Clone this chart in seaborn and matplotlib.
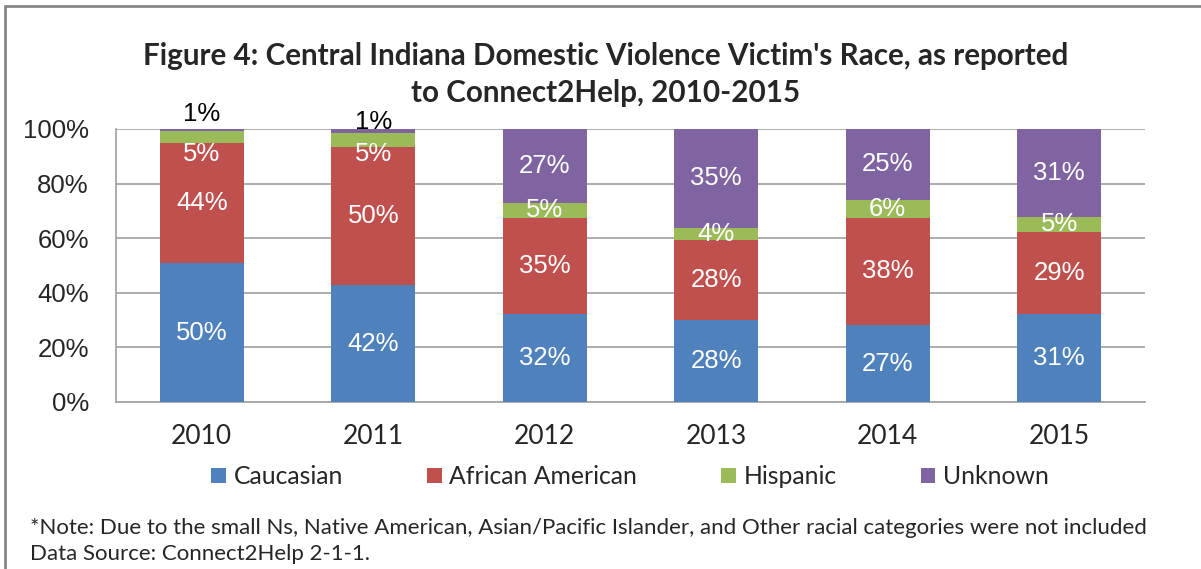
import numpy as np
import pandas as pd
import matplotlib
matplotlib.use('Agg')
from matplotlib import pyplot as plt
from matplotlib.lines import Line2D
from matplotlib.patches import Patch
from matplotlib.ticker import FixedLocator
import seaborn as sns

years = ['2010', '2011', '2012', '2013', '2014', '2015']
races = ['Caucasian', 'African American', 'Hispanic', 'Unknown']
# segment shares (%)
caucasian = [50.8, 42.7, 32.4, 29.9, 28.2, 32.4]
african_american = [43.9, 50.8, 35.1, 29.5, 39.3, 30.0]
hispanic = [4.7, 5.1, 5.4, 4.4, 6.5, 5.3]
unknown = [0.6, 1.4, 27.1, 36.2, 26.0, 32.3]
# data labels printed on the chart
caucasian_labels = ['50%', '42%', '32%', '28%', '27%', '31%']
african_american_labels = ['44%', '50%', '35%', '28%', '38%', '29%']
hispanic_labels = ['5%', '5%', '5%', '4%', '6%', '5%']
unknown_labels = ['1%', '1%', '27%', '35%', '25%', '31%']
y_ticks = [0, 20, 40, 60, 80, 100]
y_tick_labels = ['0%', '20%', '40%', '60%', '80%', '100%']

colors = ['#4F81BD', '#C0504D', '#9BBB59', '#8064A2']
grid_color = '#A6A6A6'
body_font = ['Lato', 'DejaVu Sans']
num_font = ['Liberation Sans', 'DejaVu Sans']

values = [caucasian, african_american, hispanic, unknown]
labels = [caucasian_labels, african_american_labels, hispanic_labels, unknown_labels]

# long table with bottom/top of every segment
rows = []
for race, vals, labs in zip(races, values, labels):
    for i, year in enumerate(years):
        bottom = sum(v[i] for v in values[:races.index(race)])
        rows.append({'year': year, 'race': race, 'value': vals[i],
                     'bottom': bottom, 'top': bottom + vals[i], 'label': labs[i]})
df = pd.DataFrame(rows)

sns.set_style('white')
fig = plt.figure(figsize=(12.01, 5.69), dpi=100)
ax = fig.add_axes([0.0966, 0.2935, 0.8568, 0.4798])

# stacked bars: draw cumulative tops from the highest layer down
for race, color in reversed(list(zip(races, colors))):
    sns.barplot(data=df[df['race'] == race], x='year', y='top', order=years,
                color=color, saturation=1, width=0.49, linewidth=0, ax=ax, zorder=3)

# segment labels (small segments get nudged like in the original)
label_offsets = {('Unknown', '2010'): 11, ('Unknown', '2011'): 5,
                 ('Hispanic', '2010'): -12, ('Hispanic', '2011'): -10}
for _, r in df.iterrows():
    x = years.index(r['year'])
    key = (r['race'], r['year'])
    if r['race'] == 'Unknown' and r['value'] < 3:
        ax.annotate(r['label'], (x, r['top']), xytext=(0, label_offsets[key]),
                    textcoords='offset points', ha='center', va='center',
                    fontsize=18.5, color='black', family=num_font, zorder=5)
    else:
        ax.annotate(r['label'], (x, r['bottom'] + r['value'] / 2),
                    xytext=(0, label_offsets.get(key, 0)), textcoords='offset points',
                    ha='center', va='center', fontsize=18.5, color='white',
                    family=num_font, zorder=5)

ax.set_xlim(-0.5, len(years) - 0.5)
ax.set_ylim(0, 100)
ax.set_yticks(y_ticks)
ax.set_yticklabels(y_tick_labels, fontsize=18.5, family=num_font)
ax.set_xlabel('')
ax.set_ylabel('')
ax.set_xticks(range(len(years)))
ax.set_xticklabels(years, fontsize=19, family=body_font)
ax.xaxis.set_minor_locator(FixedLocator(np.arange(-0.5, len(years), 1)))
ax.tick_params(axis='x', which='major', length=0, pad=16)
ax.tick_params(axis='x', which='minor', length=6, color=grid_color, width=1.3, direction='out')
ax.tick_params(axis='y', length=6, color=grid_color, width=1.3, direction='out', pad=13.5)
ax.grid(True, axis='y', color=grid_color, linewidth=1.3, zorder=0)
ax.set_axisbelow(True)
sns.despine(ax=ax, top=True, right=True)
for side in ['left', 'bottom']:
    ax.spines[side].set_color(grid_color)
    ax.spines[side].set_linewidth(1.3)

# two-line title, one text per line
fig.text(0.5045, 0.8858,
         "Figure 4: Central Indiana Domestic Violence Victim's Race, as reported",
         ha='center', va='baseline', fontsize=21.3, fontweight='bold', family=body_font)
fig.text(0.5045, 0.8207, 'to Connect2Help, 2010-2015',
         ha='center', va='baseline', fontsize=21.3, fontweight='bold', family=body_font)

handles = [Patch(facecolor=c, edgecolor='none') for c in colors]
fig.legend(handles, races, loc='center', bbox_to_anchor=(0.5245, 0.162), ncol=4,
           frameon=False, prop={'family': body_font, 'size': 17.8},
           handlelength=0.6, handleheight=0.6, handletextpad=0.3, columnspacing=3.4)

fig.text(0.025, 0.072,
         '*Note: Due to the small Ns, Native American, Asian/Pacific Islander, and Other racial categories were not included',
         ha='left', va='center', fontsize=16, family=body_font)
fig.text(0.025, 0.026, 'Data Source: Connect2Help 2-1-1.',
         ha='left', va='center', fontsize=16, family=body_font)

# frame lines along the top and left edge
fig.add_artist(Line2D([0.004, 1.0], [0.99, 0.99], transform=fig.transFigure,
                      color='#888888', linewidth=2))
fig.add_artist(Line2D([0.004, 0.004], [0.0, 0.99], transform=fig.transFigure,
                      color='#888888', linewidth=2))

fig.savefig('out.png', dpi=100)
plt.close(fig)
